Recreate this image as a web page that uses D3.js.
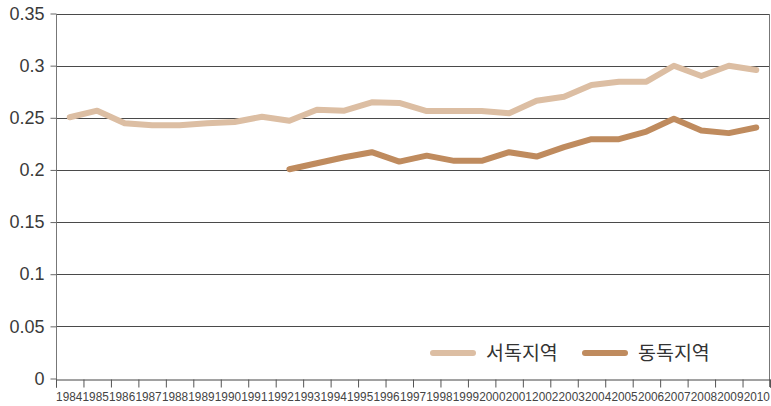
<!DOCTYPE html>
<html>
<head>
<meta charset="utf-8">
<script src="https://cdn.jsdelivr.net/npm/d3@7"></script>
<style>
  html, body { margin: 0; padding: 0; background: #fff; }
  svg { display: block; }
</style>
</head>
<body>
<svg id="chart" width="771" height="406"></svg>
<script>
// Axis labels along the bottom (one per year)
const yearLabels = ["1984","1985","1986","1987","1988","1989","1990","1991","1992","1993",
  "1994","1995","1996","1997","1998","1999","2000","2001","2002","2003","2004","2005",
  "2006","2007","2008","2009","2010"];

// Y tick values and their printed labels
const yTicks = [0, 0.05, 0.1, 0.15, 0.2, 0.25, 0.3, 0.35];
const yTickLabels = ["0", "0.05", "0.1", "0.15", "0.2", "0.25", "0.3", "0.35"];

// Series names
const seriesNames = ["서독지역", "동독지역"];

// West (서독지역) values, one per plotted period
const westValues = [0.2505, 0.2568, 0.2447, 0.2428, 0.2428, 0.2447, 0.2459, 0.2510,
  0.2472, 0.2577, 0.2568, 0.2648, 0.2642, 0.2565, 0.2565, 0.2565, 0.2543,
  0.2664, 0.2702, 0.2814, 0.2846, 0.2846, 0.2999, 0.2901, 0.2999, 0.2958];

// East (동독지역) values, starting in the ninth period
const eastValues = [null, null, null, null, null, null, null, null,
  0.2007, 0.2064, 0.2122, 0.2170, 0.2080, 0.2137, 0.2087, 0.2087, 0.2170, 0.2128,
  0.2218, 0.2295, 0.2295, 0.2368, 0.2490, 0.2378, 0.2353, 0.2407];

const colors = ["#dcbea3", "#bf8b5e"];

const svg = d3.select("#chart");
const plotLeft = 56, plotRight = 770, plotTop = 13.5, plotBottom = 378.5;

// Plot periods sit between consecutive tick marks
const nPeriods = westValues.length;
const xi = d3.scaleLinear().domain([0, nPeriods]).range([plotLeft, plotRight]);
const xLabel = d3.scaleBand().domain(yearLabels).range([plotLeft, plotRight]).padding(0);
const y = d3.scaleLinear().domain([0, 0.35]).range([plotBottom, plotTop]);

// Horizontal gridlines
svg.append("g")
  .selectAll("line")
  .data(yTicks.filter(d => d > 0))
  .join("line")
  .attr("x1", plotLeft).attr("x2", plotRight)
  .attr("y1", d => Math.round(y(d)) + 0.5).attr("y2", d => Math.round(y(d)) + 0.5)
  .attr("stroke", "#4a4a4a").attr("stroke-width", 1);

// Right border
svg.append("line")
  .attr("x1", plotRight - 0.5).attr("x2", plotRight - 0.5)
  .attr("y1", Math.round(y(0.35))).attr("y2", Math.round(y(0)) + 8)
  .attr("stroke", "#777");

// Y axis
const yAxis = svg.append("g")
  .attr("transform", `translate(${plotLeft + 0.5},0)`)
  .call(d3.axisLeft(y).tickValues(yTicks).tickSize(6).tickPadding(6)
    .tickFormat((d, i) => yTickLabels[i]));
yAxis.select(".domain").attr("stroke", "#777")
  .attr("d", `M0,${Math.round(y(0.35))}V${Math.round(y(0)) + 8}`);
yAxis.selectAll(".tick line").attr("stroke", "#666");
yAxis.selectAll(".tick text")
  .attr("font-family", "Liberation Sans, Arial, sans-serif")
  .attr("font-size", 18).attr("fill", "#3a3a3a");

// X axis: tick marks at the period boundaries
const xAxis = svg.append("g")
  .attr("transform", `translate(0,${Math.round(y(0)) + 0.5})`)
  .call(d3.axisBottom(xi).tickValues(d3.range(nPeriods + 1)).tickSize(8).tickFormat(""));
xAxis.select(".domain").attr("stroke", "#444");
xAxis.selectAll(".tick line").attr("stroke", "#555");

// Year labels
svg.append("g")
  .selectAll("text")
  .data(yearLabels)
  .join("text")
  .attr("x", d => xLabel(d) + xLabel.bandwidth() / 2)
  .attr("y", 400.5)
  .attr("text-anchor", "middle")
  .attr("textLength", xLabel.bandwidth() - 0.2)
  .attr("lengthAdjust", "spacingAndGlyphs")
  .attr("font-family", "Liberation Sans, Arial, sans-serif")
  .attr("font-size", 12.5)
  .attr("fill", "#444")
  .text(d => d);

// Series lines
const line = d3.line()
  .defined(d => d != null)
  .x((d, i) => xi(i + 0.5))
  .y(d => y(d));

[westValues, eastValues].forEach((vals, k) => {
  svg.append("path")
    .datum(vals)
    .attr("d", line)
    .attr("fill", "none")
    .attr("stroke", colors[k])
    .attr("stroke-width", 6)
    .attr("stroke-linejoin", "round")
    .attr("stroke-linecap", "round");
});

// Legend
const legend = svg.append("g").attr("transform", "translate(0,353)");
const legendX = [433, 585];
seriesNames.forEach((name, k) => {
  legend.append("line")
    .attr("x1", legendX[k]).attr("x2", legendX[k] + 40)
    .attr("y1", 0).attr("y2", 0)
    .attr("stroke", colors[k]).attr("stroke-width", 6)
    .attr("stroke-linecap", "round");
  legend.append("text")
    .attr("x", legendX[k] + 53)
    .attr("y", 0)
    .attr("dy", "0.36em")
    .attr("font-family", "Noto Sans CJK KR, sans-serif")
    .attr("font-size", 19.5)
    .attr("fill", "#333")
    .text(name);
});
</script>
</body>
</html>
